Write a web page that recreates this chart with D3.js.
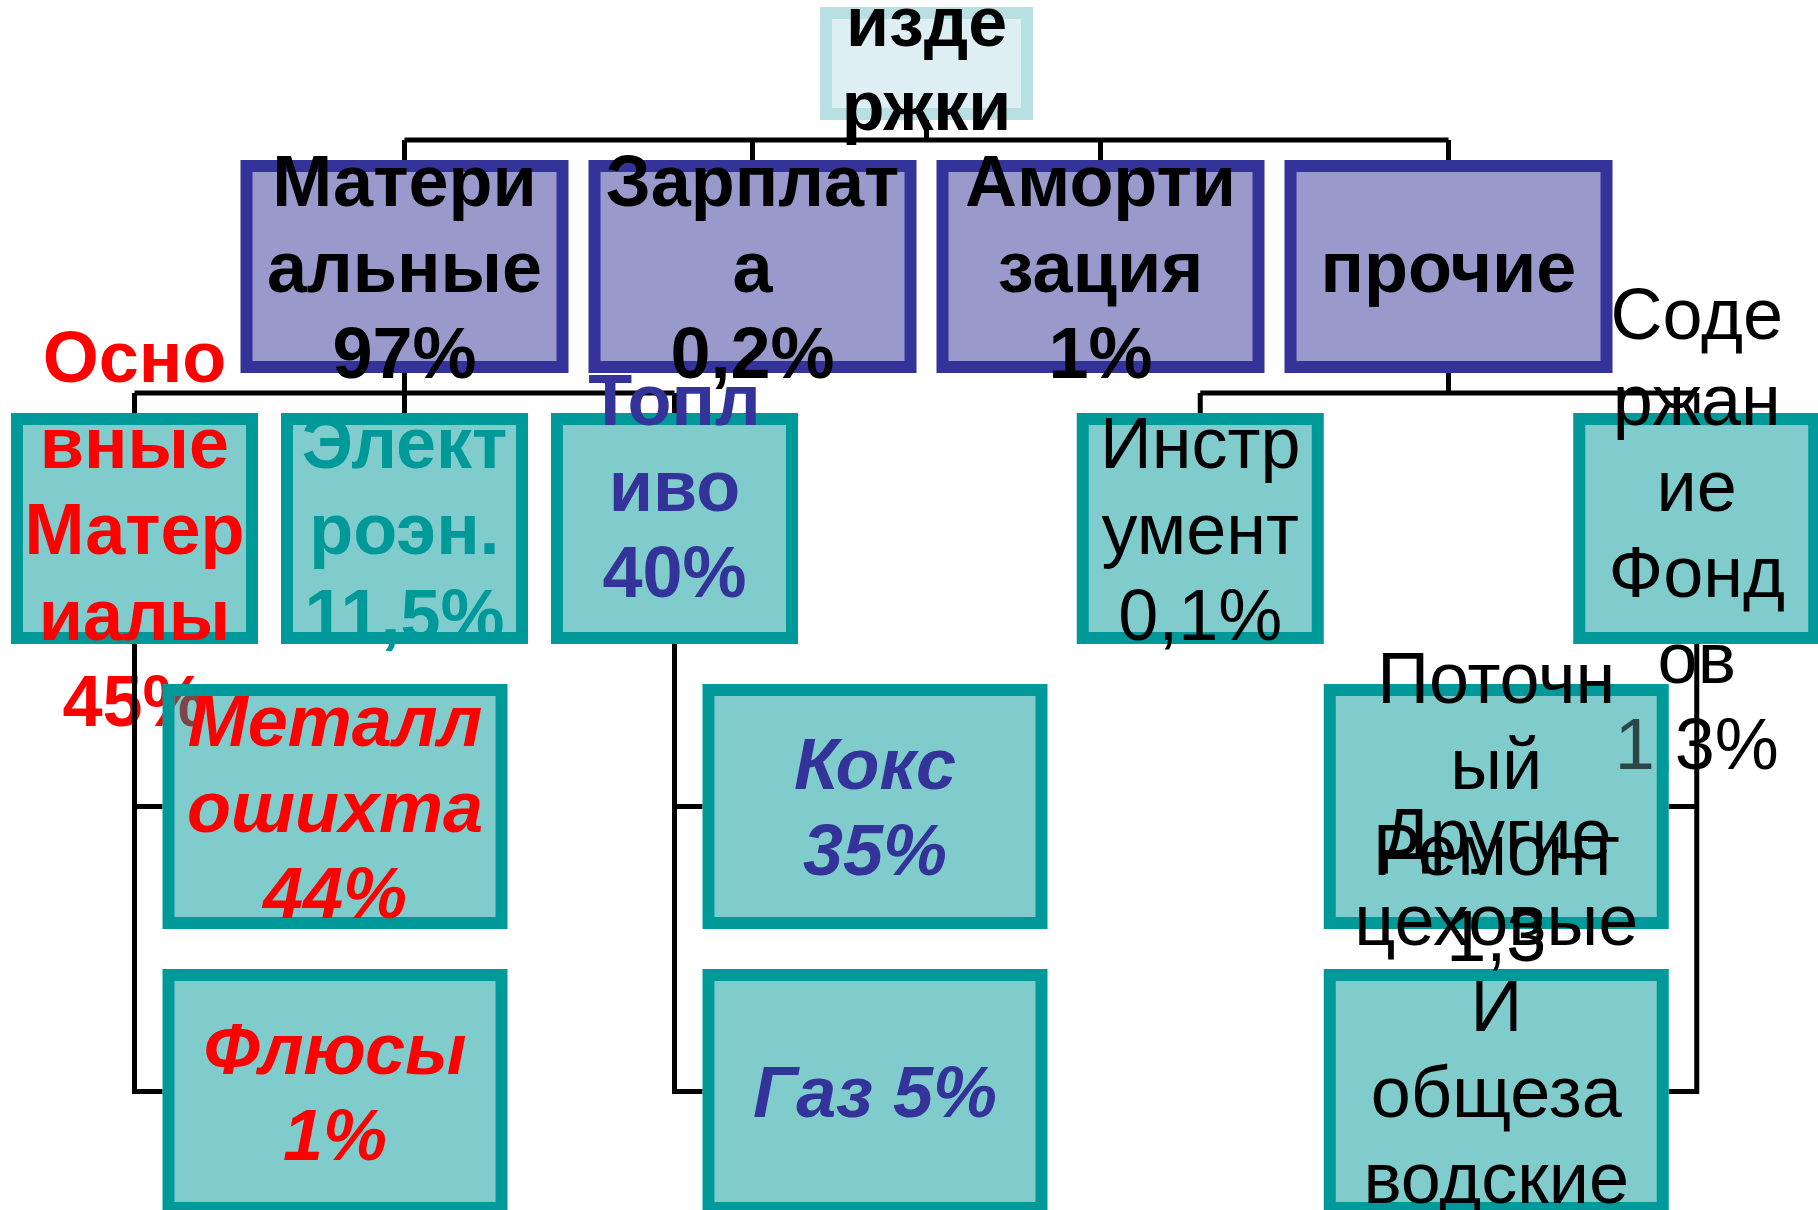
<!DOCTYPE html>
<html>
<head>
<meta charset="utf-8">
<script src="https://cdn.jsdelivr.net/npm/d3@7"></script>
<style>
  html, body { margin: 0; padding: 0; background: #fff; }
  svg { display: block; }
</style>
</head>
<body>
<div id="chart"></div>
<script>

// structure of costs (text split in lines like on the slide)
const rootName = "Издержки";
const rootLines = ["изде", "ржки"];

const costNames = ["Материальные", "Зарплата", "Амортизация", "Прочие"];
const costLines = [["Матери", "альные", "97%"], ["Зарплат", "а", "0,2%"], ["Аморти", "зация", "1%"], ["прочие"]];

const itemNames = ["Основные материалы", "Электроэнергия", "Топливо", "Инструмент", "Содержание фондов"];
const itemParents = ["Материальные", "Материальные", "Материальные", "Прочие", "Прочие"];
const itemLines = [
  ["Осно", "вные", "Матер", "иалы", "45%"],
  ["Элект", "роэн.", "11,5%"],
  ["Топл", "иво", "40%", ""],
  ["Инстр", "умент", "0,1%"],
  ["Соде", "ржан", "ие", "Фонд", "ов", "1,3%"]
];

const subNames = ["Металлошихта", "Флюсы", "Кокс", "Газ", "Поточный ремонт", "Другие цеховые и общезаводские"];
const subParents = ["Основные материалы", "Основные материалы", "Топливо", "Топливо", "Содержание фондов", "Содержание фондов"];
const subLines = [
  ["Металл", "ошихта", "44%"],
  ["Флюсы", "1%"],
  ["Кокс", "35%"],
  ["Газ 5%"],
  ["Поточн", "ый", "Ремонт", "1,3"],
  ["Другие", "цеховые", "И", "общеза", "водские", "расход", "ы"]
];

// ---- layout / style settings
var width = 1818, height = 1210;
var FONT = '"Liberation Sans", Arial, Helvetica, sans-serif';
var rootX = width / 2 + 17.5;      // slide is a bit off-centre
var topY = 7;
var boxW = [213, 328, 247, 345];
var boxH = [113, 213, 231, 245];
var gapY = 40, gapX1 = 20, gapX2 = 23, hangOff = 28, border = 12, lineW = 5;

var fills = [
  { fill: "#ddeff2", stroke: "#b8e0e3" },
  { fill: "#9999cc", stroke: "#333399" },
  { fill: "#80cccc", stroke: "#009999" },
  { fill: "#80cccc", stroke: "#009999" }
];
var itemStyle = {
  "Основные материалы": { color: "#ff0000", weight: "bold" },
  "Электроэнергия": { color: "#009999", weight: "bold" },
  "Топливо": { color: "#333399", weight: "bold" },
  "Инструмент": { color: "#000000", weight: "normal" },
  "Содержание фондов": { color: "#000000", weight: "normal" }
};

// build table for stratify
var rows = [{ id: rootName, parent: null, lines: rootLines }];
costNames.forEach(function(n, i) { rows.push({ id: n, parent: rootName, lines: costLines[i] }); });
itemNames.forEach(function(n, i) { rows.push({ id: n, parent: itemParents[i], lines: itemLines[i] }); });
subNames.forEach(function(n, i) { rows.push({ id: n, parent: subParents[i], lines: subLines[i] }); });

var root = d3.stratify().id(function(d) { return d.id; }).parentId(function(d) { return d.parent; })(rows);

// level tops
var levelTop = [topY];
for (var l = 1; l < 4; l++) levelTop.push(levelTop[l - 1] + boxH[l - 1] + gapY);

// style of every node
root.each(function(n) {
  if (n.depth <= 1) n.style = { color: "#000000", weight: "bold", italic: false };
  else if (n.depth == 2) n.style = Object.assign({ italic: false }, itemStyle[n.id]);
  else {
    var p = n.parent.style;
    n.style = { color: p.color, weight: p.weight, italic: p.weight == "bold" };
  }
  n.fs = n.depth == 0 ? 70 : 72;
  n.lh = n.depth == 0 ? 84 : 86;
});

// horizontal placement
root.cx = rootX;
root.x0 = rootX - boxW[0] / 2; root.y0 = levelTop[0];

var x1 = d3.scalePoint().domain(costNames).range([rootX - 1.5 * (boxW[1] + gapX1), rootX + 1.5 * (boxW[1] + gapX1)]);
root.children.forEach(function(c) {
  c.cx = x1(c.id);
  c.x0 = c.cx - boxW[1] / 2; c.y0 = levelTop[1];
});

root.children.forEach(function(p) {
  if (!p.children) return;
  var kids = p.children;
  // widen the step when a branch has to hang to the left (close to the right edge)
  var step = boxW[2] + gapX2;
  var n = kids.length;
  var tmp = d3.scalePoint().domain(kids.map(function(k) { return k.id; })).range([p.cx - (n - 1) / 2 * step, p.cx + (n - 1) / 2 * step]);
  kids.forEach(function(k, i) {
    if (k.children && i > 0 && tmp(k.id) + hangOff + boxW[3] > width) {
      step = Math.max(step, boxW[2] / 2 + hangOff + boxW[3]);
    }
  });
  var xs = d3.scalePoint().domain(kids.map(function(k) { return k.id; })).range([p.cx - (n - 1) / 2 * step, p.cx + (n - 1) / 2 * step]);
  kids.forEach(function(k) {
    k.cx = xs(k.id);
    k.x0 = k.cx - boxW[2] / 2; k.y0 = levelTop[2];
  });
});

root.descendants().filter(function(d) { return d.depth == 2 && d.children; }).forEach(function(p) {
  var left = p.cx + hangOff + boxW[3] > width;
  p.hangLeft = left;
  p.children.forEach(function(k, i) {
    k.x0 = left ? p.cx - hangOff - boxW[3] : p.cx + hangOff;
    k.cx = k.x0 + boxW[3] / 2;
    k.y0 = levelTop[3] + i * (boxH[3] + gapY);
  });
});

root.each(function(n) {
  n.w = boxW[n.depth]; n.h = boxH[n.depth];
  n.cy = n.y0 + n.h / 2;
});

// ---- drawing
var svg = d3.select("#chart").append("svg")
  .attr("width", width)
  .attr("height", height)
  .style("font-family", FONT);

svg.append("rect").attr("width", width).attr("height", height).attr("fill", "#fff");

function drawBoxes(g, nodes) {
  g.selectAll("rect.box").data(nodes).enter().append("rect")
    .attr("class", "box")
    .attr("x", function(d) { return d.x0 + border / 2; })
    .attr("y", function(d) { return d.y0 + border / 2; })
    .attr("width", function(d) { return d.w - border; })
    .attr("height", function(d) { return d.h - border; })
    .attr("fill", function(d) { return fills[d.depth].fill; })
    .attr("stroke", function(d) { return fills[d.depth].stroke; })
    .attr("stroke-width", border);
}

function drawText(g, nodes, colorFn) {
  nodes.forEach(function(d) {
    var n = d.data.lines.length;
    d.data.lines.forEach(function(t, i) {
      if (!t) return;
      g.append("text")
        .attr("x", d.cx)
        .attr("y", d.cy + (i - (n - 1) / 2) * d.lh + 0.35 * d.fs)
        .attr("text-anchor", "middle")
        .style("font-size", d.fs + "px")
        .style("font-weight", d.style.weight)
        .style("font-style", d.style.italic ? "italic" : "normal")
        .attr("fill", colorFn ? colorFn(d) : d.style.color)
        .text(t);
    });
  });
}

var upper = root.descendants().filter(function(d) { return d.depth <= 2; });
var lower = root.descendants().filter(function(d) { return d.depth == 3; });

// connectors root -> level 1 -> level 2
var lines1 = svg.append("g").attr("fill", "none").attr("stroke", "#000").attr("stroke-width", lineW);
upper.filter(function(d) { return d.depth < 2 && d.children; }).forEach(function(p) {
  var midY = p.y0 + p.h + gapY / 2;
  var kids = p.children;
  var path = d3.path();
  path.moveTo(p.cx, p.y0 + p.h); path.lineTo(p.cx, midY);
  path.moveTo(d3.min(kids, function(k) { return k.cx; }), midY);
  path.lineTo(d3.max(kids, function(k) { return k.cx; }), midY);
  kids.forEach(function(k) { path.moveTo(k.cx, midY); path.lineTo(k.cx, k.y0); });
  lines1.append("path").attr("d", path.toString());
});

drawBoxes(svg.append("g"), upper);
drawText(svg.append("g"), upper);

// connectors level 2 -> level 3 (side branches)
var lines2 = svg.append("g").attr("fill", "none").attr("stroke", "#000").attr("stroke-width", lineW);
upper.filter(function(d) { return d.depth == 2 && d.children; }).forEach(function(p) {
  var kids = p.children;
  var path = d3.path();
  path.moveTo(p.cx, p.y0 + p.h);
  path.lineTo(p.cx, kids[kids.length - 1].cy + lineW / 2);
  kids.forEach(function(k) {
    path.moveTo(p.cx, k.cy);
    path.lineTo(p.hangLeft ? k.x0 + k.w : k.x0, k.cy);
  });
  lines2.append("path").attr("d", path.toString());
});

drawBoxes(svg.append("g"), lower);

// text of level 2 shows faintly through the boxes of level 3
var clip = svg.append("defs").append("clipPath").attr("id", "innerClip");
lower.forEach(function(d) {
  clip.append("rect").attr("x", d.x0 + border).attr("y", d.y0 + border)
    .attr("width", d.w - 2 * border).attr("height", d.h - 2 * border);
});
var teal = d3.rgb(fills[3].fill);
function shine(c) {
  c = d3.rgb(c);
  var a = 0.66;
  return d3.rgb(
    teal.r * (1 - a) + a * teal.r * c.r / 255,
    teal.g * (1 - a) + a * teal.g * c.g / 255,
    teal.b * (1 - a) + a * teal.b * c.b / 255
  ).toString();
}
drawText(svg.append("g").attr("clip-path", "url(#innerClip)"),
  upper.filter(function(d) { return d.depth == 2; }),
  function(d) { return shine(d.style.color); });

drawText(svg.append("g"), lower);

</script>
</body>
</html>
